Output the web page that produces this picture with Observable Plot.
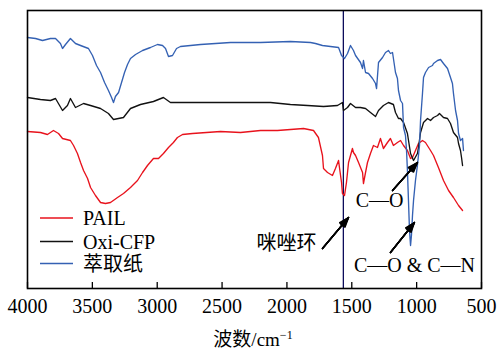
<!DOCTYPE html>
<html><head><meta charset="utf-8">
<script src="https://cdn.jsdelivr.net/npm/d3@7"></script>
<script src="https://cdn.jsdelivr.net/npm/@observablehq/plot@0.6"></script>
<style>body{margin:0;background:#fff} #chart{width:499px;height:349px;position:relative}</style>
</head><body><div id="chart"></div>
<script>
// Series (wavenumber cm-1, transmittance in arbitrary offset units)
const seriesNames = ["PAIL", "Oxi-CFP", "萃取纸"];
const seriesColors = ["#e8121c", "#111111", "#3461b3"];

const pailWn = [4000,3900,3846,3800,3761,3730,3669,3645,3615,3591,3568,3537,3514,3476,3437,3399,3360,3306,3260,3206,3152,3113,3075,3029,2990,2952,2913,2875,2844,2805,2728,2512,2358,2204,2073,1872,1795,1757,1726,1718,1687,1649,1626,1602,1595,1579,1572,1556,1541,1525,1495,1487,1471,1448,1417,1410,1394,1379,1356,1333,1302,1279,1256,1225,1202,1179,1148,1124,1101,1071,1047,1032,1009,986,955,932,893,870,832,793,754,716,677,646];
const pailT  = [157,156,154,158,155,150,148,143,135,126,118,110,101,93,86,85,86,91,95,101,108,116,123,130,130,135,141,146,151,154,155,157,156,158,158,160,158,151,133,120,116,113,120,128,121,106,95,93,106,126,140,136,133,126,116,105,116,126,135,143,141,150,140,146,150,143,146,148,143,138,130,131,138,145,148,146,138,133,121,108,98,91,83,78];

const oxiWn = [4000,3900,3823,3784,3730,3692,3669,3630,3568,3514,3437,3376,3337,3260,3206,3129,3029,2952,2898,2743,2127,1973,1841,1718,1610,1572,1564,1533,1510,1471,1433,1394,1356,1317,1294,1256,1217,1179,1163,1140,1124,1101,1071,1047,1024,994,986,970,947,916,893,870,839,824,793,762,739,716,685,677,662,654,646];
const oxiT  = [191,189,188,190,178,183,190,181,185,183,180,175,169,171,180,184,187,191,186,186,186,184,183,182,183,186,178,181,185,181,181,180,176,172,178,183,186,184,176,170,170,166,155,135,128,135,141,156,166,170,168,171,173,175,171,170,165,156,151,145,138,131,123];

const paperWn = [4000,3938,3884,3823,3784,3746,3730,3707,3669,3630,3591,3530,3499,3468,3437,3406,3376,3352,3337,3322,3298,3275,3252,3229,3206,3167,3113,3052,2998,2959,2936,2913,2882,2851,2821,2666,2435,2204,1973,1818,1780,1726,1664,1602,1579,1556,1533,1510,1487,1471,1433,1417,1410,1394,1371,1340,1317,1309,1294,1263,1240,1217,1202,1186,1179,1163,1148,1140,1124,1109,1101,1086,1078,1071,1063,1055,1047,1040,1032,1024,1009,994,978,970,955,947,932,908,878,870,839,816,793,762,739,724,716,700,685,677,662,646,639];
const paperT  = [251,250,248,250,250,245,240,244,250,245,243,240,233,223,216,206,198,191,186,192,196,206,216,224,230,234,238,241,244,243,240,232,233,240,242,244,246,246,247,246,245,243,242,241,233,230,235,243,238,233,226,220,228,216,215,210,205,200,226,231,236,238,235,236,230,216,210,198,188,185,161,153,138,118,88,58,43,53,73,88,108,123,143,168,195,211,216,221,223,225,228,229,225,220,211,205,195,178,168,155,148,150,138];

const xTicks = [4000, 3500, 3000, 2500, 2000, 1500, 1000, 500];
const imidazoleWn = [1565];

// annotations: label position and arrow (in wavenumber / intensity units)
const annLabels = ["咪唑环", "C—O", "C—O & C—N"];
const annTextWn = [2003, 1286, 1017];
const annTextT  = [45, 88, 23];
const annFromWn = [1726, 1186, 1202];
const annFromT  = [40, 98, 36];
const annToWn   = [1525, 994, 1017];
const annToT    = [71, 126, 66];

const allWn = [pailWn, oxiWn, paperWn];
const allT = [pailT, oxiT, paperT];
const rows = [];
seriesNames.forEach((name, i) => allWn[i].forEach((w, j) => rows.push({series: name, wn: w, t: allT[i][j]})));
const ann = annLabels.map((l, i) => ({label: l, tx: annTextWn[i], ty: annTextT[i], x1: annFromWn[i], y1: annFromT[i], x2: annToWn[i], y2: annToT[i]}));

const serif = "'Liberation Serif', 'Times New Roman', 'Noto Sans CJK SC', serif";

const arrowMarks = [8, 16, 24, 32, 40].map(a => Plot.arrow(ann, {x1: "x1", y1: "y1", x2: "x2", y2: "y2", headAngle: a, headLength: 11, stroke: "black", strokeWidth: 1.4}));

const chart = Plot.plot({
  width: 499, height: 349,
  marginLeft: 27, marginRight: 18, marginTop: 10, marginBottom: 61,
  x: {domain: [4000, 500], axis: null},
  y: {domain: [0, 278], axis: null},
  color: {domain: seriesNames, range: seriesColors},
  style: {fontFamily: serif, background: "white"},
  marks: [
    Plot.ruleX(imidazoleWn, {stroke: "#0c0c5a", strokeWidth: 1.3}),
    Plot.line(rows, {x: "wn", y: "t", z: "series", stroke: "series", strokeWidth: 1.35}),
    ...arrowMarks,
    Plot.text(ann, {x: "tx", y: "ty", text: "label", fontSize: 20, fontFamily: serif, fill: "black"}),
    Plot.tickX(xTicks, {x: d => d, insetTop: 272, stroke: "black", strokeWidth: 1.3}),
    Plot.axisX(xTicks, {tickSize: 0, tickPadding: 10, tickFormat: d => String(d), fontSize: 20, fontFamily: serif, label: null}),
    Plot.frame({stroke: "black", strokeWidth: 1.6})
  ]
});
document.getElementById("chart").appendChild(chart);

// legend inside plot
const svg = d3.select(chart);
const lg = svg.append("g").attr("text-anchor", "start");
const legendY = [218, 241.5, 263.5];
seriesNames.forEach((n, i) => {
  lg.append("line").attr("x1", 40).attr("x2", 73).attr("y1", legendY[i]).attr("y2", legendY[i])
    .attr("stroke", seriesColors[i]).attr("stroke-width", 1.3);
  lg.append("text").attr("x", 83).attr("y", legendY[i]).attr("dy", "0.35em").attr("text-anchor", "start")
    .attr("font-size", 20).attr("font-family", serif).attr("fill", "black").text(n);
});
// x-axis label
const xl = svg.append("text").attr("x", 253).attr("y", 346).attr("text-anchor", "middle")
  .attr("font-size", 19).attr("font-family", serif).attr("fill", "black");
xl.append("tspan").text("波数/cm");
xl.append("tspan").attr("dy", -7).attr("font-size", 12).text("−1");
</script>
</body></html>
